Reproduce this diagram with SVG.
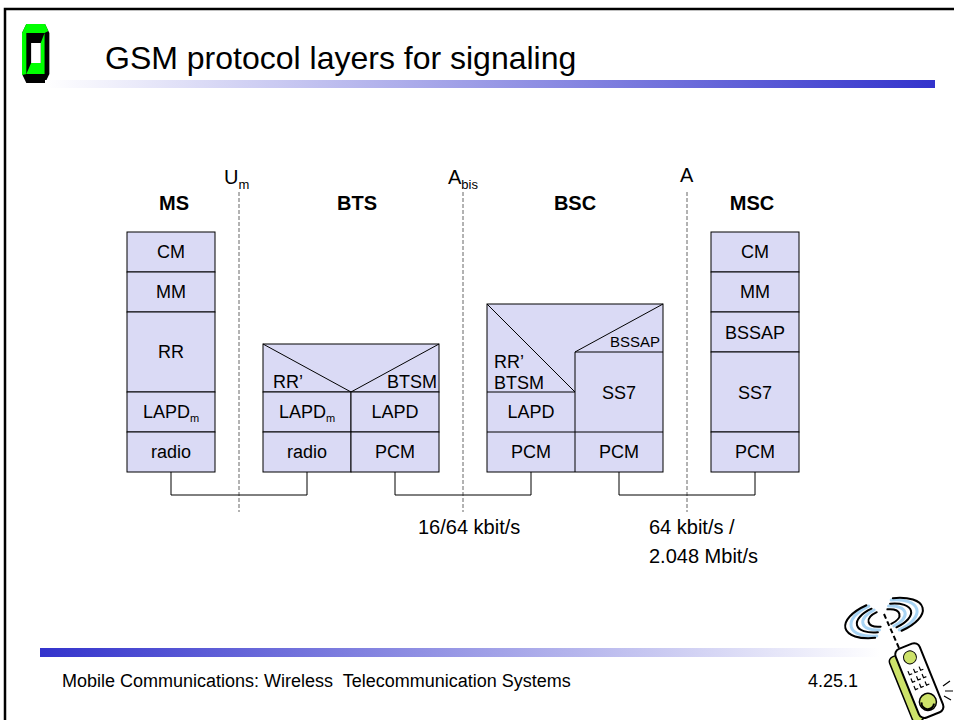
<svg xmlns="http://www.w3.org/2000/svg" width="954" height="720" viewBox="0 0 954 720">
  <style>
    text { font-family: "Liberation Sans", Arial, Helvetica, sans-serif; fill: #000; }
    .frame { fill: none; stroke: #000; stroke-width: 2.5; }
    .box { fill: #dadaf5; stroke: #000; stroke-width: 1; }
    .ln { fill: none; stroke: #000; stroke-width: 1; }
    .ifc { fill: none; stroke: #666; stroke-width: 1; stroke-dasharray: 4 2; }
    .lbl { font-size: 18px; text-anchor: middle; }
    .hd { font-size: 20px; font-weight: bold; text-anchor: middle; }
    .iface { font-size: 20px; }
    .rate { font-size: 20px; }
    .foot { font-size: 18px; white-space: pre; }
  </style>
  <defs>
    <linearGradient id="titleBar" x1="0" y1="0" x2="1" y2="0">
      <stop offset="0" stop-color="#ffffff"/>
      <stop offset="1" stop-color="#3333cc"/>
    </linearGradient>
    <linearGradient id="footBar" x1="0" y1="0" x2="1" y2="0">
      <stop offset="0" stop-color="#3333cc"/>
      <stop offset="1" stop-color="#ffffff"/>
    </linearGradient>
  </defs>

  <!-- slide frame -->
  <path class="frame" d="M5 722 V9 H956"/>

  <!-- university logo (octagonal frame, drawn square then narrowed) -->
  <g id="logo" transform="translate(22,0) scale(0.48,1) translate(-23,0)">
    <polygon points="32,24 71,24 80,33 80,74 71,83 32,83 23,74 23,33" fill="#000"/>
    <polygon points="23,75 23,33 32,24 71,24 78,31 70,33 32,33 32,74" fill="#00ff00"/>
    <polygon points="70,33 70,74 32,74 42,63 62,63 62,43" fill="#00ff00"/>
    <rect x="42" y="43" width="20" height="20" fill="#fff"/>
  </g>

  <!-- title -->
  <text x="105" y="69" font-size="32">GSM protocol layers for signaling</text>
  <rect x="45" y="80" width="890" height="8" fill="url(#titleBar)"/>

  <!-- interface boundaries -->
  <g id="interfaces">
    <line class="ifc" x1="239" y1="192" x2="239" y2="512"/>
    <line class="ifc" x1="463" y1="192" x2="463" y2="512"/>
    <line class="ifc" x1="687" y1="192" x2="687" y2="512"/>
    <text class="iface" x="224" y="184">U<tspan font-size="13" dy="5">m</tspan></text>
    <text class="iface" x="448" y="184">A<tspan font-size="13" dy="5">bis</tspan></text>
    <text class="iface" x="680" y="182">A</text>
  </g>

  <!-- MS -->
  <g id="ms">
    <text class="hd" x="174" y="210">MS</text>
    <rect class="box" x="127" y="232" width="88" height="40"/>
    <rect class="box" x="127" y="272" width="88" height="40"/>
    <rect class="box" x="127" y="312" width="88" height="80"/>
    <rect class="box" x="127" y="392" width="88" height="40"/>
    <rect class="box" x="127" y="432" width="88" height="40"/>
    <text class="lbl" x="171" y="258">CM</text>
    <text class="lbl" x="171" y="298">MM</text>
    <text class="lbl" x="171" y="358">RR</text>
    <text class="lbl" x="171" y="418">LAPD<tspan font-size="11" dy="4">m</tspan></text>
    <text class="lbl" x="171" y="458">radio</text>
  </g>

  <!-- BTS -->
  <g id="bts">
    <text class="hd" x="357" y="210">BTS</text>
    <rect class="box" x="263" y="344" width="176" height="48"/>
    <polyline class="ln" points="263,344 351,392 439,344"/>
    <rect class="box" x="263" y="392" width="88" height="40"/>
    <rect class="box" x="351" y="392" width="88" height="40"/>
    <rect class="box" x="263" y="432" width="88" height="40"/>
    <rect class="box" x="351" y="432" width="88" height="40"/>
    <text x="273" y="388" font-size="18">RR’</text>
    <text x="437" y="388" font-size="18" text-anchor="end">BTSM</text>
    <text class="lbl" x="307" y="418">LAPD<tspan font-size="11" dy="4">m</tspan></text>
    <text class="lbl" x="395" y="418">LAPD</text>
    <text class="lbl" x="307" y="458">radio</text>
    <text class="lbl" x="395" y="458">PCM</text>
  </g>

  <!-- BSC -->
  <g id="bsc">
    <text class="hd" x="575" y="210">BSC</text>
    <rect class="box" x="487" y="304" width="176" height="168"/>
    <line class="ln" x1="487" y1="304" x2="575" y2="392"/>
    <line class="ln" x1="487" y1="392" x2="575" y2="392"/>
    <line class="ln" x1="663" y1="304" x2="575" y2="352"/>
    <line class="ln" x1="575" y1="352" x2="663" y2="352"/>
    <line class="ln" x1="575" y1="352" x2="575" y2="472"/>
    <line class="ln" x1="487" y1="432" x2="663" y2="432"/>
    <text x="494" y="368" font-size="18">RR’</text>
    <text x="494" y="389" font-size="18">BTSM</text>
    <text x="660" y="347" font-size="15" text-anchor="end">BSSAP</text>
    <text class="lbl" x="531" y="418">LAPD</text>
    <text class="lbl" x="619" y="399" font-size="20">SS7</text>
    <text class="lbl" x="531" y="458">PCM</text>
    <text class="lbl" x="619" y="458">PCM</text>
  </g>

  <!-- MSC -->
  <g id="msc">
    <text class="hd" x="752" y="210">MSC</text>
    <rect class="box" x="711" y="232" width="88" height="40"/>
    <rect class="box" x="711" y="272" width="88" height="40"/>
    <rect class="box" x="711" y="312" width="88" height="40"/>
    <rect class="box" x="711" y="352" width="88" height="80"/>
    <rect class="box" x="711" y="432" width="88" height="40"/>
    <text class="lbl" x="755" y="258">CM</text>
    <text class="lbl" x="755" y="298">MM</text>
    <text class="lbl" x="755" y="339" font-size="20">BSSAP</text>
    <text class="lbl" x="755" y="399" font-size="20">SS7</text>
    <text class="lbl" x="755" y="458">PCM</text>
  </g>

  <!-- physical links -->
  <g id="links">
    <path class="ln" d="M171 472 V495 H307 V472"/>
    <path class="ln" d="M395 472 V495 H531 V472"/>
    <path class="ln" d="M619 472 V495 H755 V472"/>
  </g>

  <!-- link rates -->
  <text class="rate" x="418" y="534">16/64 kbit/s</text>
  <text class="rate" x="649" y="534">64 kbit/s /</text>
  <text class="rate" x="649" y="563">2.048 Mbit/s</text>

  <!-- footer -->
  <rect x="40" y="648" width="840" height="9" fill="url(#footBar)"/>
  <text class="foot" x="62" y="687" xml:space="preserve">Mobile Communications: Wireless  Telecommunication Systems</text>
  <text class="foot" x="808" y="687">4.25.1</text>

  <!-- handset clip art -->
  <g id="phone">
    <g transform="translate(884,618) rotate(-15)" fill="none" stroke-linecap="round">
      <g stroke="#a8d4f4" stroke-width="3">
        <path d="M-7.5 10.3 A22 11 0 0 1 -7.5 -10.3"/>
        <path d="M-11.6 15.5 A34 16.5 0 0 1 -11.6 -15.5"/>
        <path d="M7.5 -10.3 A22 11 0 0 1 7.5 10.3"/>
        <path d="M11.6 -15.5 A34 16.5 0 0 1 11.6 15.5"/>
      </g>
      <g stroke="#000" stroke-width="2">
        <path d="M-5.5 7.5 A16 8 0 0 1 -5.5 -7.5"/>
        <path d="M-9.6 12.2 A28 13 0 0 1 -9.6 -12.2"/>
        <path d="M-13.7 16.9 A40 18 0 0 1 -13.7 -16.9"/>
        <path d="M5.5 -7.5 A16 8 0 0 1 5.5 7.5"/>
        <path d="M9.6 -12.2 A28 13 0 0 1 9.6 12.2"/>
        <path d="M13.7 -16.9 A40 18 0 0 1 13.7 16.9"/>
      </g>
    </g>
    <line x1="884" y1="614" x2="899" y2="648" stroke="#000" stroke-width="2" stroke-dasharray="5 3"/>
    <g transform="translate(918,680) rotate(-22)" stroke="#000">
      <rect x="-20" y="-31" width="12" height="70" rx="5" fill="#cde26a" stroke-width="1.5"/>
      <rect x="-12" y="-36" width="26" height="74" rx="6" fill="#fff" stroke-width="2"/>
      <circle cx="1" cy="-24" r="6.5" fill="#cde26a" stroke-width="1"/>
      <circle cx="1" cy="24" r="8.5" fill="#cde26a" stroke-width="1.5"/>
      <path d="M-5 22 A6 6 0 0 0 6 28" fill="none" stroke-width="2"/>
      <path d="M-6 -12 v4 h3 M0 -12 v4 h3 M6 -12 v4 h3 M-6 -4 v4 h3 M0 -4 v4 h3 M6 -4 v4 h3 M-6 4 v4 h3 M0 4 v4 h3 M6 4 v4 h3" fill="none" stroke-width="1.2"/>
    </g>
    <path d="M943 686 l7 -5 M945 691 l8 0 M944 696 l7 4" stroke="#000" stroke-width="1.2" fill="none"/>
  </g>
</svg>
